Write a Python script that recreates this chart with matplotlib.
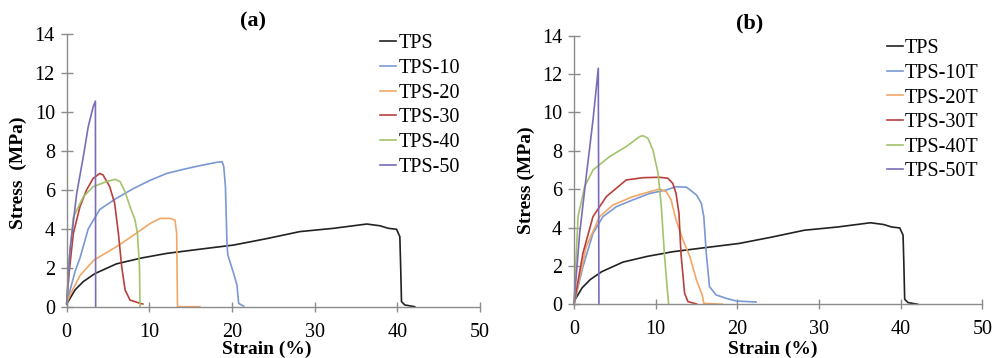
import numpy as np
import matplotlib
matplotlib.use("Agg")
import matplotlib.pyplot as plt

plt.rcParams['font.family'] = ['Liberation Serif', 'DejaVu Serif']

# ---- panel (a) data: strain (%), stress (MPa) ----
tps_x = [0, 0.5, 1.0, 2.0, 3.4, 6, 9, 12.1, 16, 20.2, 24.2, 28.2, 32.3, 36.3, 37.9, 38.9, 39.9, 40.3, 40.4, 40.5, 40.9, 42.1]
tps_y = [0.15, 0.5, 0.86, 1.29, 1.7, 2.2, 2.5, 2.74, 2.95, 3.17, 3.5, 3.86, 4.03, 4.25, 4.16, 4.03, 3.98, 3.6, 2.06, 0.26, 0.09, 0.0]

a10_x = [0, 0.5, 1.0, 1.6, 2.6, 4.0, 6.0, 8.1, 10.1, 12.1, 14.1, 16.1, 18.1, 18.8, 19.0, 19.2, 19.4, 19.5, 20.2, 20.6, 20.8, 21.4]
a10_y = [0.2, 1.0, 1.8, 2.5, 4.0, 5.0, 5.57, 6.08, 6.5, 6.85, 7.06, 7.25, 7.42, 7.45, 7.2, 6.17, 3.1, 2.65, 1.7, 1.1, 0.17, 0.03]

a20_x = [0, 0.5, 1.6, 3.3, 6.0, 8.1, 10.1, 11.3, 12.5, 13.1, 13.3, 13.4, 16.1]
a20_y = [0.2, 0.7, 1.6, 2.4, 3.08, 3.68, 4.28, 4.54, 4.54, 4.45, 3.77, 0.0, 0.0]

a30_x = [0, 0.3, 0.8, 1.6, 2.4, 3.2, 4.0, 4.4, 5.2, 5.8, 6.25, 6.65, 7.06, 7.66, 8.9, 9.2]
a30_y = [0.2, 1.8, 3.77, 5.14, 6.0, 6.6, 6.85, 6.77, 6.17, 5.31, 3.77, 2.06, 0.86, 0.34, 0.17, 0.14]

a40_x = [0, 0.3, 0.8, 2.0, 3.2, 4.8, 5.85, 6.45, 7.06, 7.66, 8.27, 8.55, 8.8, 8.87]
a40_y = [0.2, 2.5, 4.6, 5.65, 6.17, 6.43, 6.55, 6.43, 5.9, 5.14, 4.45, 3.77, 2.06, 0.0]

a50_x = [0, 0.4, 1.2, 2.0, 2.6, 3.2, 3.47, 3.5]
a50_y = [0.2, 2.9, 5.8, 7.7, 9.25, 10.28, 10.57, 0.0]

# ---- panel (b) data ----
b10_x = [0, 1.1, 2.33, 3.55, 5.2, 7.2, 9.3, 11.3, 12.5, 13.8, 15.0, 15.6, 15.9, 16.2, 16.6, 17.4, 18.65, 19.9, 22.3]
b10_y = [0.0, 1.96, 3.7, 4.57, 5.09, 5.44, 5.78, 5.96, 6.13, 6.1, 5.7, 5.26, 4.57, 2.66, 0.92, 0.49, 0.31, 0.17, 0.12]

b20_x = [0, 1.5, 3.14, 4.8, 7.2, 9.3, 10.5, 11.3, 11.9, 12.5, 13.35, 14.2, 15.0, 15.7, 15.9, 18.2]
b20_y = [0.0, 3.0, 4.57, 5.18, 5.61, 5.87, 6.01, 5.87, 5.44, 4.4, 3.35, 2.48, 1.27, 0.49, 0.05, 0.0]

b30_x = [0, 1.1, 2.33, 3.96, 6.4, 8.45, 10.5, 11.5, 12.1, 12.5, 12.86, 13.1, 13.55, 13.96, 15.0]
b30_y = [0.0, 2.66, 4.57, 5.61, 6.48, 6.6, 6.62, 6.57, 6.3, 5.78, 4.74, 2.66, 0.57, 0.14, 0.02]

b40_x = [0, 0.5, 1.3, 2.33, 4.37, 6.4, 8.04, 8.45, 9.06, 9.67, 10.3, 10.7, 11.1, 11.4, 11.6]
b40_y = [0.0, 4.57, 6.13, 7.0, 7.7, 8.22, 8.74, 8.79, 8.65, 8.04, 6.83, 5.09, 2.48, 0.92, 0.0]

b50_x = [0, 0.7, 1.5, 2.33, 2.98, 3.06]
b50_y = [0.0, 3.7, 6.65, 9.6, 12.3, 0.0]

colors = ['#222222', '#7a98d4', '#f2a766', '#b8403c', '#a3c46a', '#7c6cb8']
labels_a = ['TPS', 'TPS-10', 'TPS-20', 'TPS-30', 'TPS-40', 'TPS-50']
labels_b = ['TPS', 'TPS-10T', 'TPS-20T', 'TPS-30T', 'TPS-40T', 'TPS-50T']

series_a = [(tps_x, tps_y), (a10_x, a10_y), (a20_x, a20_y), (a30_x, a30_y), (a40_x, a40_y), (a50_x, a50_y)]
series_b = [(tps_x, tps_y), (b10_x, b10_y), (b20_x, b20_y), (b30_x, b30_y), (b40_x, b40_y), (b50_x, b50_y)]

fig = plt.figure(figsize=(9.93, 3.58), dpi=100)
ax1 = fig.add_axes([0.0672, 0.1433, 0.4162, 0.7607])
ax2 = fig.add_axes([0.578, 0.150, 0.4112, 0.7503])


def style(ax):
    ax.set_xlim(0, 50)
    ax.set_ylim(0, 14)
    ax.set_xticks(np.arange(0, 51, 10))
    ax.set_yticks(np.arange(0, 15, 2))
    for s in ['top', 'right']:
        ax.spines[s].set_visible(False)
    for s in ['left', 'bottom']:
        ax.spines[s].set_color('#8c8c8c')
        ax.spines[s].set_linewidth(1.0)
    ax.tick_params(axis='x', direction='inout', length=7, width=1.0, color='#8c8c8c',
                   labelsize=14.5, pad=8)
    ax.tick_params(axis='y', direction='inout', length=9, width=1.0, color='#8c8c8c',
                   labelsize=14.5, pad=4)
    ax.patch.set_alpha(0)


for ax, series, labels in [(ax1, series_a, labels_a), (ax2, series_b, labels_b)]:
    style(ax)
    for (x, y), c, lab in zip(series, colors, labels):
        ax.plot(x, y, color=c, lw=1.2, label=lab, clip_on=False)

fig.legend(handles=ax1.get_lines(), loc='upper left', bbox_to_anchor=(0.383, 0.905),
           frameon=False, fontsize=14.5, handlelength=0.8, handletextpad=0.1,
           labelspacing=0.28, borderpad=0, borderaxespad=0)
fig.legend(handles=ax2.get_lines(), loc='upper left', bbox_to_anchor=(0.893, 0.89),
           frameon=False, fontsize=14.5, handlelength=0.8, handletextpad=0.1,
           labelspacing=0.27, borderpad=0, borderaxespad=0)

fig.text(253 / 993, 1 - 21 / 358, '(a)', ha='center', va='center', fontsize=16, fontweight='bold')
fig.text(750 / 993, 1 - 23 / 358, '(b)', ha='center', va='center', fontsize=16, fontweight='bold')

fig.text(267 / 993, 1 - 349 / 358, 'Strain (%)', ha='center', va='center', fontsize=14, fontweight='bold')
fig.text(773 / 993, 1 - 349 / 358, 'Strain (%)', ha='center', va='center', fontsize=14, fontweight='bold')

fig.text(18 / 993, 1 - 173 / 358, 'Stress  (MPa)', ha='center', va='center', rotation=90,
         fontsize=14, fontweight='bold')
fig.text(526 / 993, 1 - 180 / 358, 'Stress (MPa)', ha='center', va='center', rotation=90,
         fontsize=14, fontweight='bold')

fig.savefig('out.png', dpi=100)
